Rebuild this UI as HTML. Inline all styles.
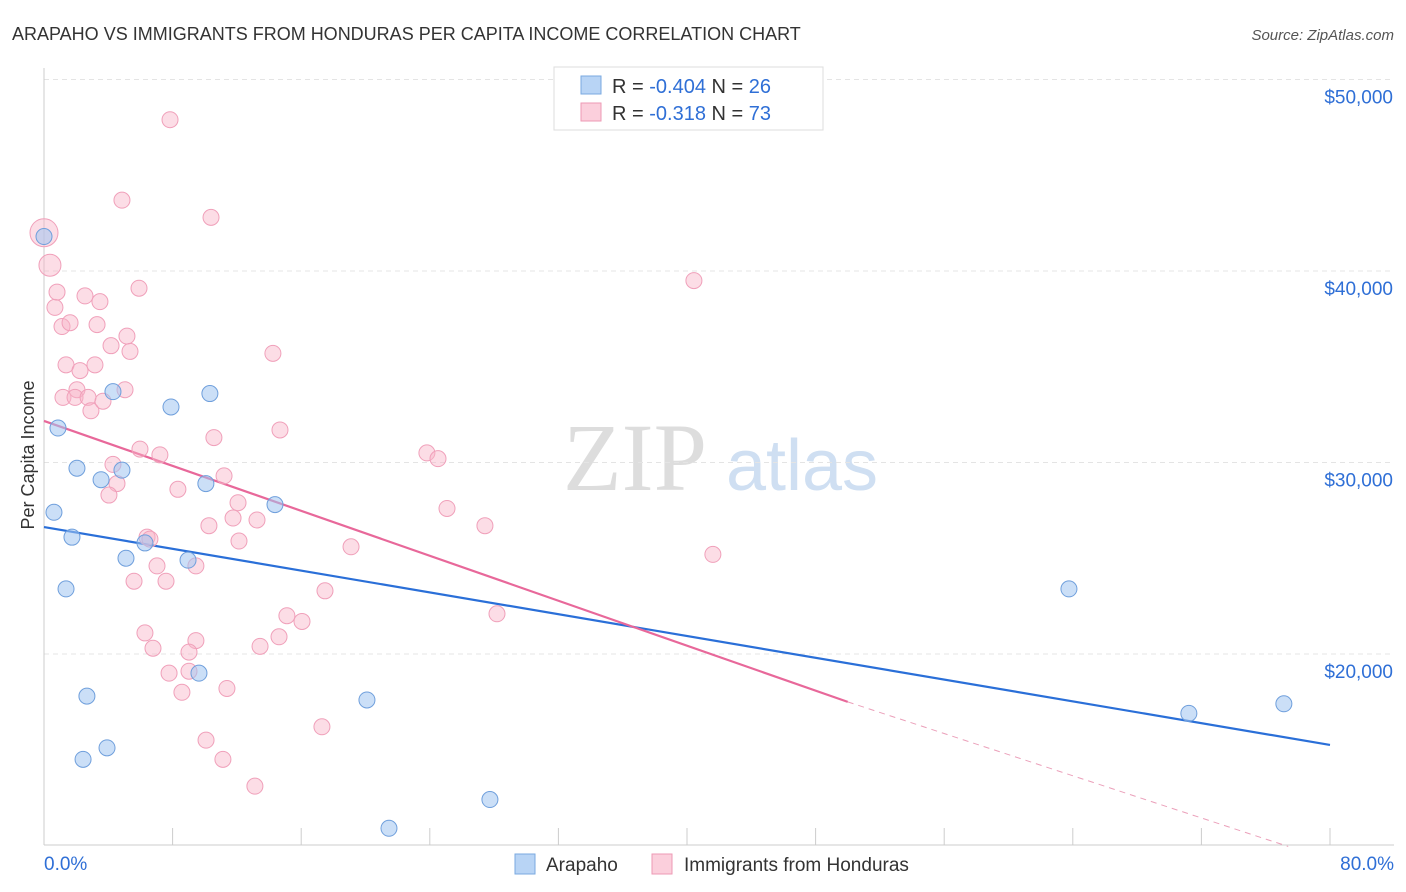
<!DOCTYPE html>
<html><head><meta charset="utf-8">
<style>
body{margin:0;background:#fff;font-family:"Liberation Sans",sans-serif;}
#wrap{position:relative;width:1406px;height:892px;overflow:hidden;}
</style></head>
<body>
<div id="wrap">
<svg id="chart" width="1406" height="892">
  <text x="12" y="40" font-size="18" fill="#333">ARAPAHO VS IMMIGRANTS FROM HONDURAS PER CAPITA INCOME CORRELATION CHART</text>
  <text x="1394" y="40" font-size="15" fill="#555" text-anchor="end" font-style="italic">Source: ZipAtlas.com</text>
  <g>
    <text x="635" y="490" font-size="96" fill="#ddd" font-family="Liberation Serif" text-anchor="middle">ZIP</text>
    <text x="802" y="490" font-size="72" fill="#cfdff2" text-anchor="middle">atlas</text>
  </g>
  <g id="grid"></g>
  <g id="axes"></g>
  <g id="trend"></g>
  <g id="points"></g>
  <text transform="translate(34,455) rotate(-90)" font-size="18" fill="#333" text-anchor="middle">Per Capita Income</text>
  <g>
    <rect x="554" y="67" width="269" height="63" fill="#fff" stroke="#ddd"/>
    <rect x="581" y="76" width="20" height="18" fill="#b8d4f5" stroke="#7aa9e0"/>
    <rect x="581" y="103" width="20" height="18" fill="#fbcfdc" stroke="#ee9ab4"/>
    <text x="612" y="93" font-size="20" fill="#333">R = <tspan fill="#2f6fd6">-0.404</tspan>   N = <tspan fill="#2f6fd6">26</tspan></text>
    <text x="612" y="120" font-size="20" fill="#333">R =  <tspan fill="#2f6fd6">-0.318</tspan>   N = <tspan fill="#2f6fd6">73</tspan></text>
  </g>
  <g>
    <rect x="515" y="854" width="20" height="20" fill="#b8d4f5" stroke="#7aa9e0"/>
    <text x="546" y="871" font-size="19" fill="#333">Arapaho</text>
    <rect x="652" y="854" width="20" height="20" fill="#fbcfdc" stroke="#ee9ab4"/>
    <text x="684" y="871" font-size="19" fill="#333">Immigrants from Honduras</text>
  </g>
</svg>
</div>
<script>
const yTicks=[20000,30000,40000,50000];
const yTickLabels=["$20,000","$30,000","$40,000","$50,000"];
const xTickLabels=["0.0%","80.0%"];
const blueX=[0,0.87,0.62,1.74,1.37,2.05,3.55,2.67,2.43,3.92,4.29,4.85,5.10,6.28,7.90,8.96,9.64,10.07,10.32,14.37,20.09,21.46,27.74,63.76,71.22,77.13];
const blueY=[41800,31800,27400,26100,23400,29700,29100,17800,14500,15100,33700,29600,25000,25800,32900,24900,19000,28900,33600,27800,17600,10900,12400,23400,16900,17400];
const pinkX=[0,0.37,0.68,0.81,1.12,1.62,1.37,2.05,2.24,1.18,1.93,2.74,2.92,2.55,3.48,3.30,3.17,3.67,5.04,4.17,5.16,5.35,5.91,4.85,7.84,10.39,40.43,14.24,14.68,10.57,7.21,5.97,4.29,4.54,4.04,8.33,11.20,12.07,10.26,11.76,13.25,12.13,6.41,6.59,7.03,5.60,7.59,9.45,6.28,6.78,9.45,9.02,15.11,16.05,14.62,13.44,17.48,19.10,7.78,8.58,9.02,11.38,10.08,11.13,13.12,17.29,23.82,24.51,25.07,27.43,28.18,41.61];
const pinkY=[42000,40300,38100,38900,37100,37300,35100,33800,34800,33400,33400,33400,32700,38700,38400,37200,35100,33200,33800,36100,36600,35800,39100,43700,47900,42800,39500,35700,31700,31300,30400,30700,29900,28900,28300,28600,29300,27900,26700,27100,27000,25900,26100,26000,24600,23800,23800,24600,21100,20300,20700,20100,22000,21700,20900,20400,23300,25600,19000,18000,19100,18200,15500,14500,13100,16200,30500,30200,27600,26700,22100,25200];
const pinkR=[14,11];
const blueTrend=[[0,26630],[80,15250]];
const pinkTrend=[[0,32170],[50,17500]];
const pinkTrendDash=[[50,17500],[77.4,9950]];

const NS="http://www.w3.org/2000/svg";
const X0=44,X1=1330,YB=654,PPU=0.01915;
const xs=v=>X0+(v/80)*(X1-X0);
const ys=v=>YB-(v-20000)*PPU;
function mk(tag,attrs,parent){const e=document.createElementNS(NS,tag);for(const k in attrs)e.setAttribute(k,attrs[k]);parent.appendChild(e);return e;}
const grid=document.getElementById('grid'),axes=document.getElementById('axes'),trend=document.getElementById('trend'),pts=document.getElementById('points');
yTicks.forEach((t,i)=>{
  const l=mk('line',{x1:44,x2:1394,y1:ys(t),y2:ys(t),stroke:'#e4e4e4','stroke-dasharray':'5,4'},grid);
  
  
  const tx=mk('text',{x:1393,y:ys(t)+24,'font-size':19,fill:'#2f6fd6','text-anchor':'end'},grid);
  tx.textContent=yTickLabels[i];
  
  
});
const ax=mk('line',{x1:44,x2:1394,y1:845,y2:845,stroke:'#ccc'},axes);


const ay=mk('line',{x1:44,x2:44,y1:68,y2:845,stroke:'#ccc'},axes);


for(let i=0;i<=10;i++){
  const t=mk('line',{x1:xs(i*8),x2:xs(i*8),y1:828,y2:845,stroke:'#ccc'},axes);
  
  
}
[[0,'start',44],[80,'end',1394]].forEach((d,i)=>{
  const t=mk('text',{x:d[2],y:870,'font-size':19,fill:'#2f6fd6','text-anchor':d[1]},axes);
  t.textContent=xTickLabels[i];
  
  
});
pinkX.forEach((x,i)=>{
  const c=mk('circle',{cx:xs(x),cy:ys(pinkY[i]),r:pinkR[i]||8,fill:'rgba(248,180,200,0.45)',stroke:'#f0a0ba','stroke-width':1},pts);
  
  
});
blueX.forEach((x,i)=>{
  const c=mk('circle',{cx:xs(x),cy:ys(blueY[i]),r:8,fill:'rgba(160,196,240,0.55)',stroke:'#6f9fdc','stroke-width':1},pts);
  
  
});
const bt=mk('line',{x1:xs(blueTrend[0][0]),y1:ys(blueTrend[0][1]),x2:xs(blueTrend[1][0]),y2:ys(blueTrend[1][1]),stroke:'#2a6fd8','stroke-width':2.2},trend);


const pt=mk('line',{x1:xs(pinkTrend[0][0]),y1:ys(pinkTrend[0][1]),x2:xs(pinkTrend[1][0]),y2:ys(pinkTrend[1][1]),stroke:'#e8689a','stroke-width':2.2},trend);


const pd=mk('line',{x1:xs(pinkTrendDash[0][0]),y1:ys(pinkTrendDash[0][1]),x2:xs(pinkTrendDash[1][0]),y2:ys(pinkTrendDash[1][1]),stroke:'#eba0ba','stroke-width':1,'stroke-dasharray':'6,5'},trend);


</script>
</body></html>
